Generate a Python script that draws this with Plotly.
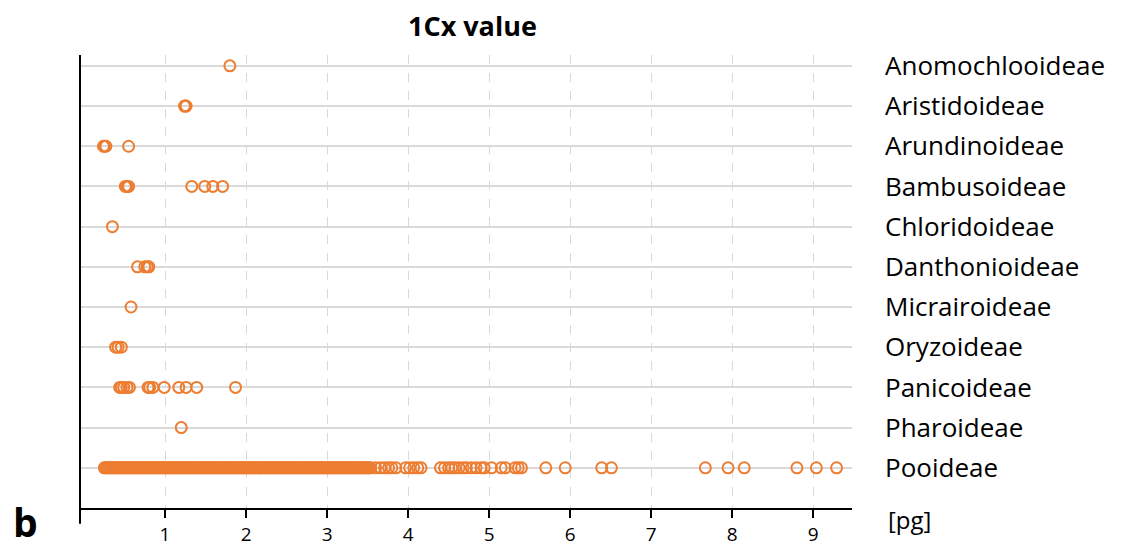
import plotly.graph_objects as go

# 1Cx values [pg] per grass subfamily
subfamilies = ["Anomochlooideae", "Aristidoideae", "Arundinoideae", "Bambusoideae",
               "Chloridoideae", "Danthonioideae", "Micrairoideae", "Oryzoideae",
               "Panicoideae", "Pharoideae", "Pooideae"]

anomochlooideae = [1.80]
aristidoideae = [1.24, 1.25, 1.26]
arundinoideae = [0.24, 0.25, 0.27, 0.55]
bambusoideae = [0.51, 0.53, 0.55, 1.33, 1.49, 1.59, 1.71]
chloridoideae = [0.35]
danthonioideae = [0.66, 0.75, 0.78, 0.80]
micrairoideae = [0.58]
oryzoideae = [0.39, 0.42, 0.46]
panicoideae = [0.44, 0.46, 0.49, 0.53, 0.56, 0.79, 0.81, 0.85, 0.99, 1.17, 1.26, 1.39, 1.87]
pharoideae = [1.20]
pooideae = [
    0.25, 0.26, 0.28, 0.30, 0.31, 0.33, 0.35, 0.36, 0.38, 0.40, 0.42, 0.43, 0.45, 0.47,
    0.48, 0.50, 0.52, 0.54, 0.55, 0.57, 0.59, 0.60, 0.62, 0.64, 0.66, 0.67, 0.69, 0.71,
    0.73, 0.74, 0.76, 0.78, 0.79, 0.81, 0.83, 0.85, 0.86, 0.88, 0.90, 0.92, 0.93, 0.95,
    0.97, 0.98, 1.00, 1.02, 1.04, 1.05, 1.07, 1.09, 1.11, 1.12, 1.14, 1.16, 1.18, 1.19,
    1.21, 1.23, 1.25, 1.26, 1.28, 1.30, 1.32, 1.33, 1.35, 1.37, 1.39, 1.40, 1.42, 1.44,
    1.46, 1.47, 1.49, 1.51, 1.53, 1.54, 1.56, 1.58, 1.60, 1.61, 1.63, 1.65, 1.67, 1.68,
    1.70, 1.72, 1.74, 1.75, 1.77, 1.79, 1.81, 1.82, 1.84, 1.86, 1.88, 1.89, 1.91, 1.93,
    1.95, 1.96, 1.98, 2.00, 2.02, 2.03, 2.05, 2.07, 2.09, 2.10, 2.12, 2.14, 2.16, 2.17,
    2.19, 2.21, 2.23, 2.24, 2.26, 2.28, 2.30, 2.31, 2.33, 2.35, 2.37, 2.38, 2.40, 2.42,
    2.44, 2.45, 2.47, 2.49, 2.51, 2.52, 2.54, 2.56, 2.58, 2.59, 2.61, 2.63, 2.65, 2.66,
    2.68, 2.70, 2.72, 2.73, 2.75, 2.77, 2.79, 2.80, 2.82, 2.84, 2.86, 2.87, 2.89, 2.91,
    2.93, 2.94, 2.96, 2.98, 3.00, 3.01, 3.03, 3.05, 3.07, 3.08, 3.10, 3.12, 3.14, 3.15,
    3.17, 3.19, 3.21, 3.22, 3.24, 3.26, 3.28, 3.29, 3.31, 3.33, 3.35, 3.36, 3.38, 3.40,
    3.42, 3.43, 3.45, 3.47, 3.49, 3.50, 3.52, 3.54,
    3.60, 3.66, 3.71, 3.76, 3.80, 3.85, 3.97, 4.02, 4.07, 4.12, 4.16,
    4.40, 4.45, 4.50, 4.54, 4.58, 4.63, 4.68, 4.72, 4.78, 4.84, 4.90, 4.94,
    5.03, 5.15, 5.20, 5.32, 5.36, 5.40,
    5.70, 5.94, 6.39, 6.51, 7.67, 7.95, 8.15, 8.80, 9.04, 9.29,
]

values_by_group = [anomochlooideae, aristidoideae, arundinoideae, bambusoideae,
                   chloridoideae, danthonioideae, micrairoideae, oryzoideae,
                   panicoideae, pharoideae, pooideae]

x_ticks = [1, 2, 3, 4, 5, 6, 7, 8, 9]

ORANGE = "#ED7D31"
GRID = "#d9d9d9"
FONT = "'Open Sans', Calibri, sans-serif"

xs, ys = [], []
for name, vals in zip(subfamilies, values_by_group):
    xs.extend(vals)
    ys.extend([name] * len(vals))

fig = go.Figure(go.Scatter(
    x=xs, y=ys, mode="markers",
    marker=dict(symbol="circle-open", size=11, color=ORANGE, line=dict(width=2, color=ORANGE)),
    showlegend=False,
))

fig.update_layout(
    width=1127, height=547,
    margin=dict(l=80, r=275, t=55, b=39),
    paper_bgcolor="white", plot_bgcolor="white",
    font=dict(family=FONT, color="black"),
    xaxis=dict(
        range=[-0.05, 9.48], tickvals=x_ticks, ticktext=[str(t) for t in x_ticks],
        showgrid=True, gridcolor=GRID, griddash="dash", gridwidth=1,
        zeroline=False, showline=True, linecolor="black", linewidth=2,
        ticks="outside", ticklen=8, tickwidth=2, tickcolor="black",
        tickfont=dict(size=19, family=FONT, color="black"),
        automargin=False,
    ),
    yaxis=dict(
        type="category", categoryorder="array", categoryarray=subfamilies[::-1],
        range=[-1.0, 10.27], side="right",
        showgrid=True, gridcolor=GRID, gridwidth=2,
        zeroline=False, showline=False, ticks="",
        ticklabelstandoff=32,
        tickfont=dict(size=26, family=FONT, color="black"),
        automargin=False,
    ),
    shapes=[
        dict(type="line", xref="paper", yref="paper", x0=0, x1=0, y0=-0.035, y1=1.0,
             line=dict(color="black", width=2)),
    ],
    annotations=[
        dict(text="<b>1Cx value</b>", xref="paper", yref="paper", x=0.508, y=1.0,
             yshift=30, yanchor="middle", showarrow=False,
             font=dict(size=27, family=FONT, color="black")),
        dict(text="[pg]", xref="paper", yref="paper", x=1.0, y=0, xshift=34, yshift=-11,
             xanchor="left", yanchor="middle", showarrow=False,
             font=dict(size=24, family=FONT, color="black")),
        dict(text="<b>b</b>", xref="paper", yref="paper", x=0, y=0, xshift=-55, yshift=-13,
             xanchor="center", yanchor="middle", showarrow=False,
             font=dict(size=39, family=FONT, color="black")),
    ],
)

fig.write_html("out.html")
